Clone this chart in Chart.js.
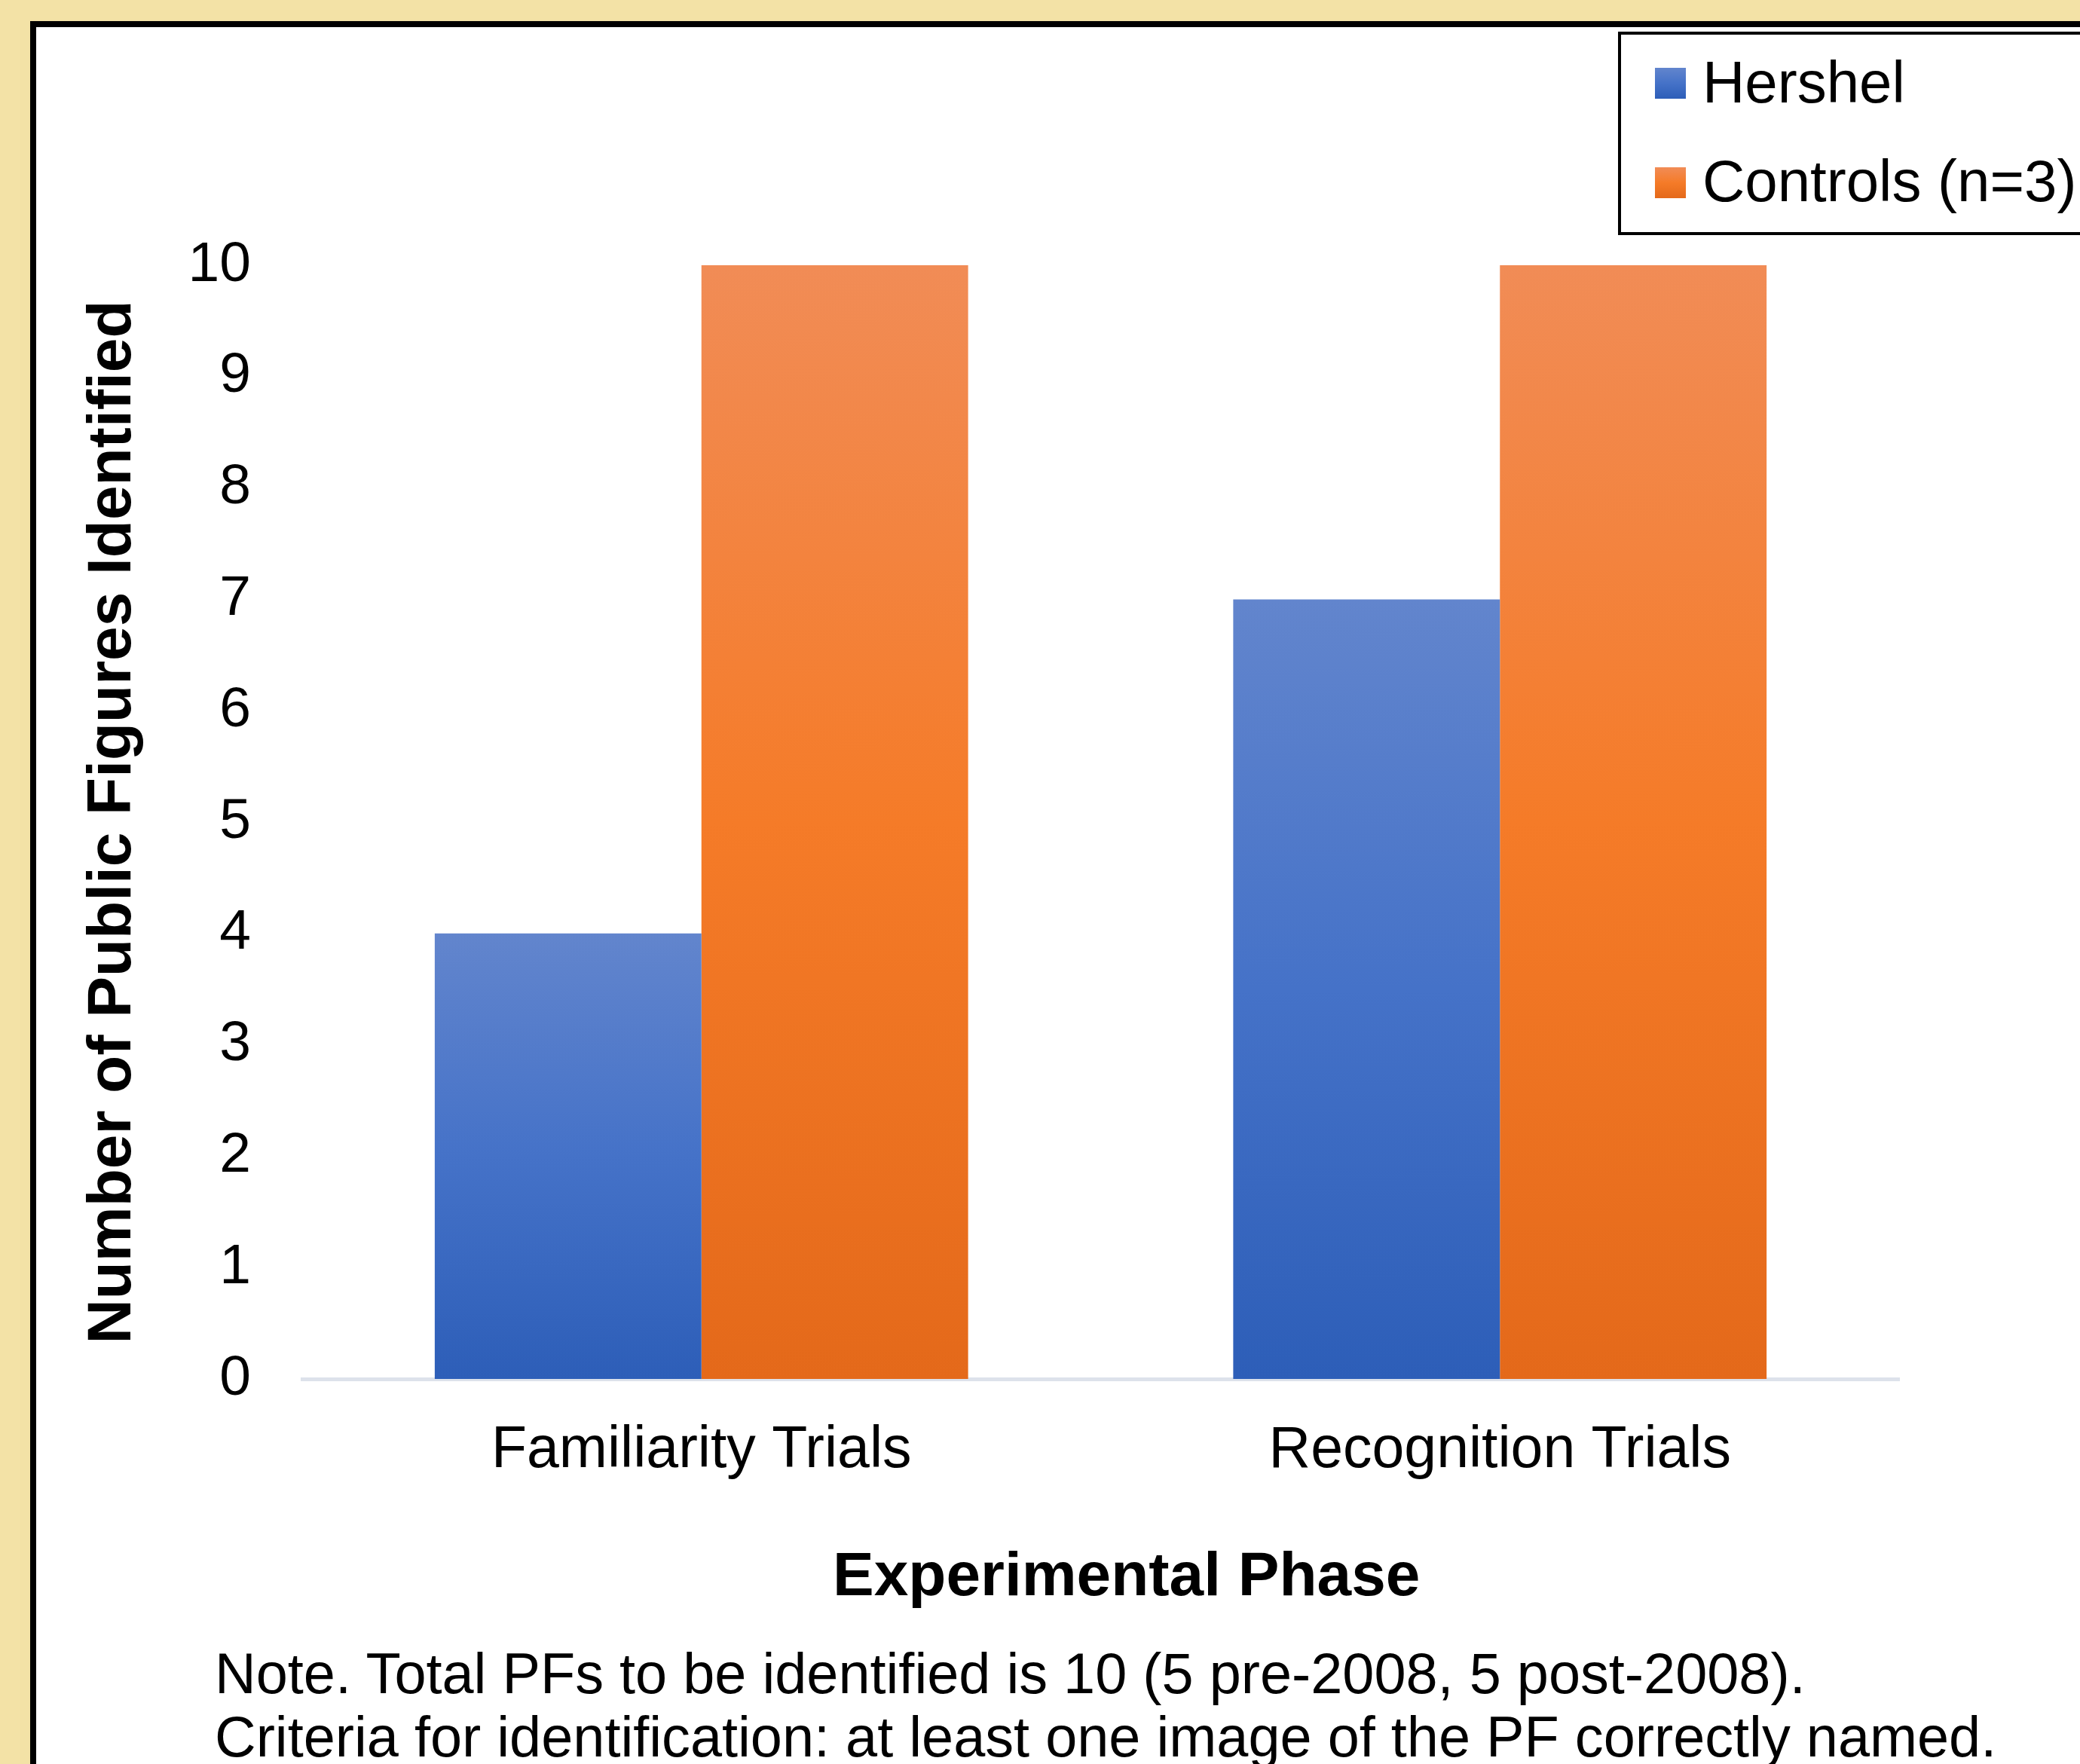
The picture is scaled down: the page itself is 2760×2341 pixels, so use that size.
<!DOCTYPE html>
<html>
<head>
<meta charset="utf-8">
<script src="https://cdn.jsdelivr.net/npm/chart.js@4.4.1/dist/chart.umd.min.js"></script>
<style>
html,body{margin:0;padding:0;width:2760px;height:2341px;overflow:hidden;background:#F3E2A6;}
#panel{position:absolute;left:40px;top:28px;width:2800px;height:2400px;box-sizing:border-box;border:8px solid #000;background:#fff;}
#wrap{position:absolute;left:0;top:0;width:2760px;height:2341px;}
#legendBox{position:absolute;left:2147px;top:42px;width:700px;height:270px;box-sizing:border-box;border:4px solid #000;background:#fff;}
.sw{position:absolute;width:41px;height:41px;}
.lt{position:absolute;font-family:"Liberation Sans",Arial,sans-serif;font-size:78px;line-height:78px;color:#000;white-space:nowrap;}
#note{position:absolute;left:285px;top:2179px;font-family:"Liberation Sans",Arial,sans-serif;font-size:75.7px;line-height:84px;color:#000;white-space:nowrap;}
</style>
</head>
<body>
<div id="panel"></div>
<div id="legendBox"></div>
<div id="legendItems"></div>
<div id="wrap"><canvas id="c"></canvas></div>
<div id="note">Note. Total PFs to be identified is 10 (5 pre-2008, 5 post-2008).<br>Criteria for identification: at least one image of the PF correctly named.</div>
<script>
// ---- data ----
const categories = ['Familiarity Trials', 'Recognition Trials'];
const seriesNames = ['Hershel', 'Controls (n=3)'];
const hershelValues = [4, 7];
const controlsValues = [10, 10];
const yMin = 0;
const yMax = 10;
const yStep = 1;
const xTitle = 'Experimental Phase';
const yTitle = 'Number of Public Figures Identified';

// ---- styles ----
const blueStops = ['#6285CD', '#4572C8', '#2D5EB8'];
const orangeStops = ['#F18C56', '#F57B28', '#E4691A'];
const FONT = '"Liberation Sans", Arial, sans-serif';

function gradient(stops) {
  return (ctx) => {
    const chart = ctx.chart;
    if (!chart.chartArea || ctx.type !== 'data') return stops[1];
    const ys = chart.scales.y;
    const top = ys.getPixelForValue(ctx.raw);
    const bottom = ys.getPixelForValue(0);
    const g = chart.ctx.createLinearGradient(0, top, 0, bottom);
    g.addColorStop(0, stops[0]);
    g.addColorStop(0.5, stops[1]);
    g.addColorStop(1, stops[2]);
    return g;
  };
}

// ---- legend (HTML) ----
const legendItems = document.getElementById('legendItems');
const legendStops = [blueStops, orangeStops];
const swTops = [90, 222];
const txtTops = [70, 201];
seriesNames.forEach((name, i) => {
  const sw = document.createElement('div');
  sw.className = 'sw';
  sw.style.left = '2196px';
  sw.style.top = swTops[i] + 'px';
  sw.style.background = 'linear-gradient(to bottom,' + legendStops[i][0] + ',' + legendStops[i][1] + ' 50%,' + legendStops[i][2] + ')';
  legendItems.appendChild(sw);
  const t = document.createElement('div');
  t.className = 'lt';
  t.style.left = '2259px';
  t.style.top = txtTops[i] + 'px';
  t.textContent = name;
  legendItems.appendChild(t);
});

// ---- chart ----
new Chart(document.getElementById('c'), {
  type: 'bar',
  data: {
    labels: categories,
    datasets: [
      { label: seriesNames[0], data: hershelValues, backgroundColor: gradient(blueStops), borderWidth: 0, barPercentage: 1, categoryPercentage: 0.668 },
      { label: seriesNames[1], data: controlsValues, backgroundColor: gradient(orangeStops), borderWidth: 0, barPercentage: 1, categoryPercentage: 0.668 }
    ]
  },
  options: {
    responsive: true,
    maintainAspectRatio: false,
    animation: false,
    events: [],
    layout: { padding: { left: 60, right: 240, top: 352, bottom: 181 } },
    plugins: { legend: { display: false }, tooltip: { enabled: false }, title: { display: false } },
    scales: {
      x: {
        grid: { display: false, drawTicks: false },
        border: { display: true, color: '#DDE2EB', width: 5 },
        ticks: { padding: 50, color: '#000', font: { family: FONT, size: 77 } },
        title: { display: true, text: '   ' + xTitle, color: '#000', font: { family: FONT, size: 82, weight: 'bold' }, padding: { top: 0, bottom: 16 } },
        afterFit: (s) => { s.height = 330; }
      },
      y: {
        min: yMin,
        max: yMax,
        grid: { display: false, drawTicks: false },
        border: { display: false },
        ticks: { stepSize: yStep, padding: 68, color: '#000', font: { family: FONT, size: 75 } },
        title: { display: true, text: yTitle, color: '#000', font: { family: FONT, size: 82, weight: 'bold' }, padding: { top: 41, bottom: 0 } },
        afterFit: (s) => { s.width = 341; }
      }
    }
  }
});
</script>
</body>
</html>
